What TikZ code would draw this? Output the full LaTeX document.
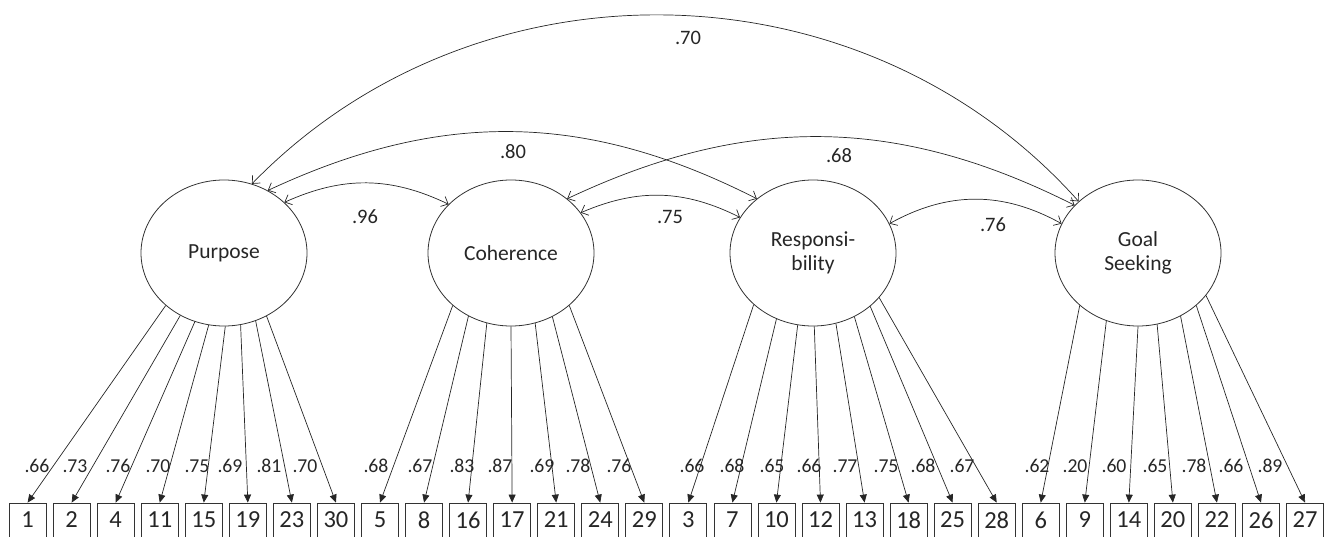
\documentclass[tikz,border=0pt]{standalone}
\usepackage{fontspec}
\setmainfont{Carlito}
\usetikzlibrary{shapes.geometric,arrows.meta}
\begin{document}
\begin{tikzpicture}[x=1pt,y=1pt,
  lat/.style={ellipse,draw=black!80,line width=0.8pt,minimum width=166pt,minimum height=146pt,
    inner sep=0pt,align=center,text=black!85,font=\fontsize{21.5}{24}\selectfont},
  obs/.style={draw=black!80,line width=0.8pt,minimum width=37pt,minimum height=34pt,inner sep=0pt,
    text=black!85,font=\fontsize{24.5}{26}\selectfont},
  load/.style={draw=black!85,line width=0.7pt,-{Triangle[length=8pt,width=7pt]}},
  cov/.style={draw=black!85,line width=0.7pt,
    {Straight Barb[length=6pt,width=11pt]}-{Straight Barb[length=6pt,width=11pt]}},
  lbl/.style={inner sep=0pt,text=black!85,font=\fontsize{19.7}{22}\selectfont},
  clbl/.style={inner sep=0pt,text=black!85,font=\fontsize{20.5}{22}\selectfont}
]
\clip (0,0) rectangle (1326,-536);

% latent variables
\node[lat] (P) at (224,-253) {Purpose};
\node[lat] (C) at (511,-253) {Coherence};
\node[lat] (R) at (813,-253) {Responsi-\\bility};
\node[lat] (G) at (1138,-253) {Goal\\Seeking};

% observed items
\foreach \n [count=\i from 0] in {1,2,4,11,15,19,23,30,5,8,16,17,21,24,29,3,7,10,12,13,18,25,28,6,9,14,20,22,26,27}
  \node[obs] (b\i) at ({27.6+44.05*\i},-520) {\n};

% loadings
\foreach \e/\a/\b/\lab/\lx in {
  P/222/0/.66/37, P/235/1/.73/75, P/247/2/.76/118, P/258/3/.70/158,
  P/271/4/.75/197, P/283/5/.69/230, P/295/6/.81/269, P/304/7/.70/305,
  C/222/8/.68/376, C/236/9/.67/420, C/251/10/.83/462, C/270/11/.87/500,
  C/289/12/.69/542, C/303/13/.78/578, C/318/14/.76/619,
  R/221/15/.66/692, R/241/16/.68/732, R/258/17/.65/772, R/271/18/.66/809,
  R/288/19/.77/845, R/303/20/.75/886, R/317/21/.68/923, R/326/22/.67/962,
  G/222/23/.62/1037, G/245/24/.20/1075, G/270/25/.60/1114, G/285/26/.65/1155,
  G/304/27/.78/1194, G/318/28/.66/1231, G/328/29/.89/1270}
{
  \draw[load] (\e.\a) -- (b\b.north);
  \node[lbl] (l\b) at (\lx,-466) {\lab};
}

% covariances
\draw[cov] (P.40) to[bend left=25] (C.142);
\draw[cov] (C.30) to[bend left=25] (R.154);
\draw[cov] (R.21) to[bend left=29] (G.159);
\draw[cov] (P.55) to[bend left=26] (R.136);
\draw[cov] (C.44) to[bend left=26] (G.143);
\draw[cov] (P.68) to[bend left=47] (G.139);

\node[clbl] (c1) at (365,-217) {.96};
\node[clbl] (c2) at (670,-217) {.75};
\node[clbl] (c3) at (993,-225) {.76};
\node[clbl] (c4) at (513,-152) {.80};
\node[clbl] (c5) at (839,-156) {.68};
\node[clbl] (c6) at (688,-38) {.70};
\end{tikzpicture}
\end{document}
